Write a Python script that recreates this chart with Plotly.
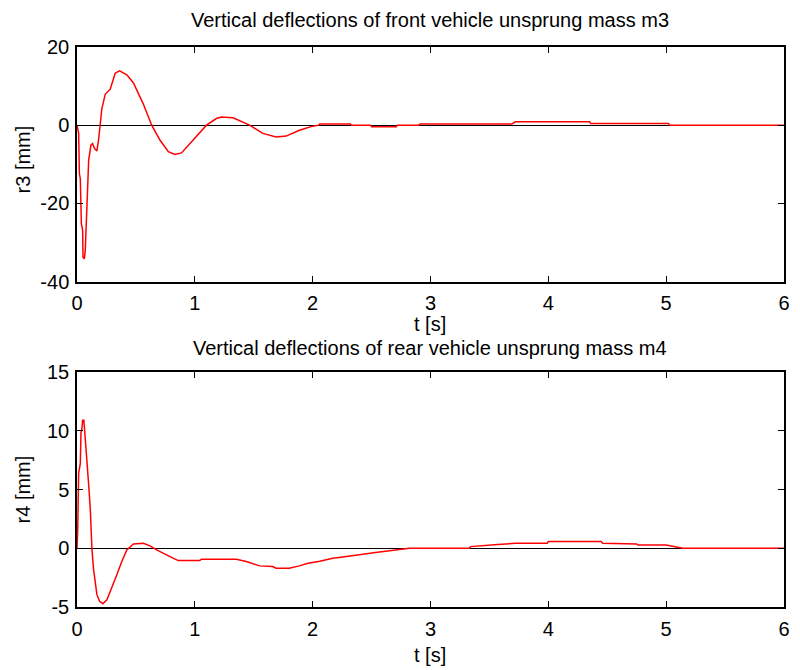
import plotly.graph_objects as go

# ---- data ----
t3 = [0, 0.008, 0.014, 0.020, 0.028, 0.037, 0.048, 0.051, 0.062, 0.070, 0.079, 0.085,
      0.099, 0.118, 0.132, 0.149, 0.169, 0.183, 0.197, 0.211, 0.239, 0.282, 0.324,
      0.361, 0.423, 0.479, 0.563, 0.634, 0.704, 0.775, 0.831, 0.887, 0.986, 1.099,
      1.183, 1.225, 1.324, 1.465, 1.577, 1.690, 1.775, 1.887, 2.000, 2.05, 2.06,
      2.32, 2.33, 2.49, 2.50, 2.71, 2.72, 2.90, 2.91, 3.69, 3.72, 4.35, 4.36, 5.02,
      5.03, 6.0]
r3 = [0, -1.3, -2.1, -12.4, -13.7, -25.2, -26.9, -33.8, -34.2, -32.1, -25.2, -16.7,
      -9.0, -5.1, -4.7, -6.0, -6.6, -3.8, 0, 4.2, 7.9, 9.2, 13.3,
      13.9, 12.9, 10.8, 5.4, 0, -3.8, -6.8, -7.5, -7.1, -3.8, 0,
      1.7, 2.1, 1.9, 0, -2.1, -3.0, -2.8, -1.3, -0.25, 0, 0.3,
      0.3, 0, 0, -0.4, -0.4, 0, 0, 0.3, 0.3, 0.85, 0.85, 0.4, 0.4,
      0, 0]

t4 = [0, 0.006, 0.014, 0.028, 0.034, 0.040, 0.048, 0.058, 0.065, 0.079, 0.099, 0.113,
      0.118, 0.127, 0.141, 0.155, 0.169, 0.192, 0.220, 0.254, 0.296, 0.338, 0.380,
      0.423, 0.479, 0.563, 0.620, 0.676, 0.789, 0.859, 1.042, 1.056, 1.352, 1.437,
      1.549, 1.66, 1.69, 1.80, 1.887, 1.96, 2.06, 2.17, 2.24, 2.33, 2.44, 2.55, 2.67,
      2.82, 3.33, 3.34, 3.57, 3.72, 3.99, 4.00, 4.45, 4.46, 4.75, 4.76, 5.00, 5.14, 6.0]
r4 = [0, 1.56, 6.4, 7.2, 9.9, 10.0, 10.9, 10.9, 10.0, 7.7, 5.4, 3.3,
      1.8, -0.1, -1.84, -2.97, -3.95, -4.52, -4.72, -4.38, -3.39, -2.26, -1.13,
      -0.14, 0.37, 0.42, 0.2, -0.14, -0.71, -1.05, -1.05, -0.93, -0.93, -1.13,
      -1.5, -1.56, -1.7, -1.7, -1.5, -1.27, -1.1, -0.85, -0.76, -0.62, -0.48, -0.34, -0.2,
      0, 0, 0.14, 0.31, 0.42, 0.42, 0.57, 0.57, 0.42, 0.37, 0.28, 0.28, 0, 0]

x_ticks = [0, 1, 2, 3, 4, 5, 6]
x_ticktext = ["0", "1", "2", "3", "4", "5", "6"]
y3_ticks = [-40, -20, 0, 20]
y3_ticktext = ["-40", "-20", "0", "20"]
y4_ticks = [-5, 0, 5, 10, 15]
y4_ticktext = ["-5", "0", "5", "10", "15"]

title3 = "Vertical deflections of front vehicle unsprung mass m3"
title4 = "Vertical deflections of rear vehicle unsprung mass m4"

FONT = "Liberation Sans, Arial, sans-serif"
FS = 20

fig = go.Figure()
fig.add_trace(go.Scatter(x=t3, y=r3, mode="lines", line=dict(color="#ff0000", width=1.5),
                         xaxis="x", yaxis="y", showlegend=False))
fig.add_trace(go.Scatter(x=t4, y=r4, mode="lines", line=dict(color="#ff0000", width=1.5),
                         xaxis="x2", yaxis="y2", showlegend=False))

W, H = 800, 670
L, R, T, B = 77, 10, 47, 63
ph = H - T - B
pw = W - L - R

def py(p):
    return (H - B - p) / ph

def px(p):
    return (p - L) / pw

axis_common = dict(showline=True, mirror="ticks", linecolor="black", linewidth=1.5,
                   ticks="inside", ticklen=6, tickwidth=1, tickcolor="black",
                   showgrid=False, tickfont=dict(family=FONT, size=FS, color="black"))

fig.update_layout(
    width=W, height=H,
    margin=dict(l=L, r=R, t=T, b=B),
    paper_bgcolor="white", plot_bgcolor="white",
    font=dict(family=FONT, size=FS, color="black"),
    xaxis=dict(domain=[0, 1], range=[0, 6], tickvals=x_ticks, ticktext=x_ticktext,
               zeroline=False, anchor="y", ticklabelstandoff=3, **axis_common),
    yaxis=dict(domain=[py(281.5), 1], range=[-40, 20], tickvals=y3_ticks, ticktext=y3_ticktext,
               zeroline=True, zerolinecolor="black", zerolinewidth=1,
               anchor="x", ticklabelstandoff=2, **axis_common),
    xaxis2=dict(domain=[0, 1], range=[0, 6], tickvals=x_ticks, ticktext=x_ticktext,
                zeroline=False, anchor="y2", ticklabelstandoff=3, **axis_common),
    yaxis2=dict(domain=[0, py(372)], range=[-5, 15], tickvals=y4_ticks, ticktext=y4_ticktext,
                zeroline=True, zerolinecolor="black", zerolinewidth=1,
                anchor="x2", ticklabelstandoff=2, **axis_common),
)

ann = dict(xref="paper", yref="paper", showarrow=False,
           font=dict(family=FONT, size=FS, color="black"))
fig.add_annotation(text=title3, x=px(433), y=py(20), xanchor="center", yanchor="middle", **ann)
fig.add_annotation(text="t [s]", x=px(433), y=py(324), xanchor="center", yanchor="middle", **ann)
fig.add_annotation(text=title4, x=px(433), y=py(348), xanchor="center", yanchor="middle", **ann)
fig.add_annotation(text="t [s]", x=px(433), y=py(655), xanchor="center", yanchor="middle", **ann)
fig.add_annotation(text="r3 [mm]", x=px(23), y=py(159), xanchor="center", yanchor="middle",
                   textangle=-90, **ann)
fig.add_annotation(text="r4 [mm]", x=px(23), y=py(489), xanchor="center", yanchor="middle",
                   textangle=-90, **ann)

fig.write_html("out.html", config={"displayModeBar": False})

# remove the default page margin so the figure sits at the window's top-left corner
with open("out.html", "r", encoding="utf-8") as f:
    html = f.read()
html = html.replace("<head>", "<head><style>html,body{margin:0;padding:0;}</style>", 1)
with open("out.html", "w", encoding="utf-8") as f:
    f.write(html)
